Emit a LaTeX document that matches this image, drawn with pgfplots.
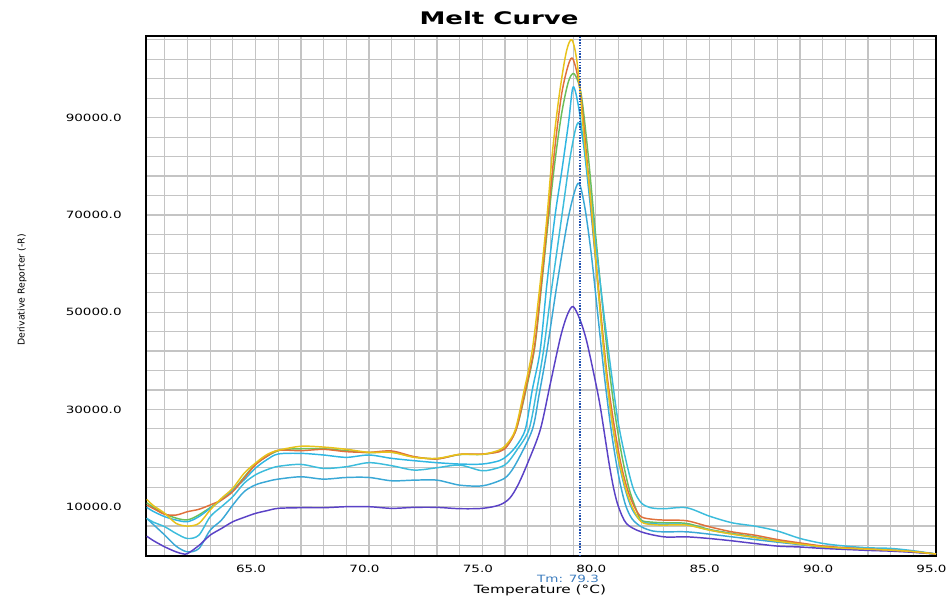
\documentclass[border=0pt]{standalone}
\usepackage{fontspec}
\setmainfont{DejaVu Sans}
\usepackage{pgfplots}
\pgfplotsset{compat=1.18}

\definecolor{cYel}{HTML}{E8C21A}
\definecolor{cOra}{HTML}{E0703A}
\definecolor{cGrn}{HTML}{6CBF5A}
\definecolor{cCyA}{HTML}{2FB6E2}
\definecolor{cCyB}{HTML}{3CBCDC}
\definecolor{cCyC}{HTML}{3AA8D6}
\definecolor{cPur}{HTML}{5A42C6}
\definecolor{cTm}{HTML}{2050B0}
\definecolor{cTmTxt}{HTML}{3C7CBE}
\definecolor{gridg}{HTML}{C4C4C4}

\begin{document}
\begin{tikzpicture}
\useasboundingbox (-109.5pt,-31.5pt) rectangle (602.25pt,417pt);
\begin{axis}[
  scale only axis,
  width=592.5pt, height=390pt,
  xmin=60.17, xmax=95, ymin=-150, ymax=106800,
  xtick={65,70,...,95},
  minor xtick={61,62,63,64,66,67,68,69,71,72,73,74,76,77,78,79,81,82,83,84,86,87,88,89,91,92,93,94},
  ytick={10000,30000,50000,70000,90000},
  minor ytick={2000,6000,14000,18000,22000,26000,34000,38000,42000,46000,54000,58000,62000,66000,74000,78000,82000,86000,94000,98000,102000,106000},
  grid=both,
  major grid style={gridg, line width=0.9pt},
  minor grid style={gridg, line width=0.9pt},
  major tick length=0pt, minor tick length=0pt,
  tick pos=left,
  scaled y ticks=false,
  axis line style={black, line width=0.9pt},
  /pgf/number format/.cd, fixed, fixed zerofill, precision=1, 1000 sep={}, assume math mode=true,
  /pgfplots/.cd,
  ticklabel style={font=\fontsize{7.5}{9}\selectfont, xscale=1.35},
  yticklabel style={anchor=east, xshift=-10pt},
  xticklabel style={yshift=-3.5pt, xshift=-2.5pt},
  every axis plot/.append style={line width=1.1pt, smooth, mark=none},
]
% green (mostly hidden under orange and yellow)
\addplot[cGrn] coordinates {
(60.2,10800)(61,8500)(62,7300)(63,9800)(64,13400)(65,18700)(66,21500)(67,21900)(68,21900)(69,21500)(70,21100)(71,21200)(72,20200)(73,19850)(74,20700)(75,20750)(75.75,21400)(76.1,22600)(76.5,26000)(76.9,33500)(77.3,42500)(77.6,55000)(77.9,68500)(78.2,81000)(78.5,91000)(78.8,97500)(79.05,99000)(79.35,95000)(79.65,83000)(79.95,68000)(80.25,53500)(80.55,40000)(80.85,29000)(81.15,20500)(81.45,14000)(81.75,9800)(82,7240)(82.5,6800)(83,6690)(84,6550)(85,5320)(86,4500)(87,3790)(88,2970)(89,2400)(90,1800)(91,1500)(92,1250)(93,1050)(94,750)(95,250)
};
% cyan C (lowest cyan)
\addplot[cCyC] coordinates {
(60.2,7600)(60.5,6300)(61,4135)(61.5,1860)(62,690)(62.5,1375)(63,5170)(63.5,7240)(64,10345)(64.5,13100)(65,14485)(65.5,15175)(66,15660)(67,16140)(68,15660)(69,16000)(70,16000)(71,15320)(72,15450)(73,15450)(74,14420)(75,14280)(75.75,15320)(76.1,16300)(76.5,19000)(77.2,25800)(77.5,33000)(77.85,42200)(78.3,56000)(78.8,69700)(79.22,76500)(79.5,72000)(79.8,62000)(80.1,49000)(80.4,36000)(80.7,25000)(81,16500)(81.3,10500)(81.6,7500)(82,5870)(82.5,5000)(83,4820)(84,4820)(85,4350)(86,3790)(87,3240)(88,2700)(89,2200)(90,1700)(91,1400)(92,1200)(93,1000)(94,700)(95,250)
};
% cyan B (high tail)
\addplot[cCyB] coordinates {
(60.2,7600)(60.5,6800)(61,5860)(61.5,4480)(62,3445)(62.5,4135)(63,7930)(63.5,10000)(64,12070)(64.5,14830)(65,16555)(65.5,17590)(66,18280)(67,18690)(68,17870)(69,18210)(70,19040)(71,18420)(72,17520)(73,18000)(74,18550)(75,17380)(75.75,18070)(76.1,19000)(76.5,21500)(77.05,25800)(77.4,34000)(77.7,42200)(78,53000)(78.3,63000)(78.6,73000)(78.85,81300)(79.1,87500)(79.26,88900)(79.45,85000)(79.7,77000)(80,64000)(80.4,48000)(80.73,36000)(81,27000)(81.36,18900)(81.67,13500)(82,10800)(82.4,9800)(83,9570)(84,9780)(85,8060)(86,6690)(87,6000)(88,5000)(89,3470)(90,2440)(91,1890)(92,1540)(93,1410)(94,930)(95,250)
};
% cyan A
\addplot[cCyA] coordinates {
(60.2,9860)(60.5,9000)(61,7930)(61.5,7240)(62,6900)(62.5,7930)(63,9655)(63.5,11380)(64,13450)(64.5,15520)(65,17935)(65.5,19660)(66,20830)(67,20960)(68,20620)(69,20140)(70,20620)(71,19930)(72,19450)(73,19040)(74,18760)(75,18760)(75.75,19450)(76.1,20500)(76.5,22500)(76.9,26000)(77.2,34000)(77.55,42200)(77.85,56000)(78.2,69700)(78.5,79000)(78.8,89000)(79,96300)(79.25,92000)(79.5,83000)(79.8,70000)(80.1,55000)(80.4,40000)(80.7,28000)(81,19500)(81.3,13500)(81.6,9500)(82,7000)(82.5,6500)(83,6400)(84,6300)(85,5200)(86,4400)(87,3700)(88,2900)(89,2300)(90,1750)(91,1450)(92,1250)(93,1050)(94,750)(95,250)
};
% purple
\addplot[cPur] coordinates {
(60.2,3930)(60.5,3000)(61,1720)(61.5,690)(61.8,300)(62,340)(62.5,2000)(63,4135)(63.5,5515)(64,6900)(64.5,7800)(65,8620)(65.5,9170)(66,9650)(67,9780)(68,9780)(69,9990)(70,9990)(71,9650)(72,9850)(73,9850)(74,9580)(75,9650)(75.75,10330)(76.2,11700)(76.57,14450)(77,19000)(77.55,25770)(78,35380)(78.45,44980)(78.75,49500)(79,51150)(79.3,48500)(79.6,44000)(80,35380)(80.2,30500)(80.4,24500)(80.6,18500)(80.8,13500)(81,10000)(81.35,6530)(82,4820)(83,3790)(84,3790)(85,3450)(86,2970)(87,2420)(88,1890)(89,1700)(90,1410)(91,1200)(92,1000)(93,850)(94,600)(95,250)
};
% orange
\addplot[cOra] coordinates {
(60.2,10350)(60.5,9600)(61,8415)(61.5,8275)(62,8965)(62.5,9450)(63,10345)(63.5,11380)(64,13100)(64.5,15865)(65,18625)(65.5,20350)(66,21590)(67,21510)(68,21780)(69,21310)(70,21170)(71,21450)(72,20280)(73,19800)(74,20760)(75,20830)(75.75,21300)(76.1,22500)(76.5,26000)(76.9,34000)(77.3,43000)(77.6,56000)(77.9,70000)(78.2,84000)(78.5,95000)(78.8,101000)(79,102000)(79.3,96000)(79.6,82000)(79.9,66000)(80.2,51000)(80.5,37000)(80.8,27000)(81.1,19000)(81.4,13500)(81.7,10000)(82,7930)(82.5,7400)(83,7240)(84,7100)(85,5870)(86,4820)(87,4140)(88,3240)(89,2540)(90,1900)(91,1550)(92,1300)(93,1050)(94,750)(95,250)
};
% yellow
\addplot[cYel] coordinates {
(60.2,11500)(60.5,10200)(61,8620)(61.5,6550)(62,6000)(62.5,6550)(63,9310)(63.5,11725)(64,13800)(64.5,16900)(65,18970)(65.5,20700)(66,21590)(67,22420)(68,22250)(69,21800)(70,21170)(71,21170)(72,20140)(73,19930)(74,20760)(75,20760)(75.75,21650)(76.1,23000)(76.45,25800)(76.8,33000)(77.2,42200)(77.55,56000)(77.85,69700)(78.1,83400)(78.4,95000)(78.7,103500)(78.95,106000)(79.2,100500)(79.5,85000)(79.8,72000)(80.1,55000)(80.4,40000)(80.7,28000)(81,20000)(81.3,14000)(81.6,10000)(82,6900)(82.5,6300)(83,6210)(84,6210)(85,5180)(86,4350)(87,3650)(88,2900)(89,2300)(90,1750)(91,1450)(92,1250)(93,1050)(94,750)(95,250)
};
% Tm marker
\addplot[cTm, densely dotted, line width=1pt, sharp plot] coordinates {(79.3,-150)(79.3,106800)};
\end{axis}
\node[font=\bfseries\fontsize{13}{15}\selectfont, xscale=1.5] at (264.75pt,403.5pt) {Melt Curve};
\node[font=\fontsize{7}{8}\selectfont, rotate=90] at (-93pt,199.5pt) {Derivative Reporter (-R)};
\node[font=\fontsize{8.5}{10}\selectfont, xscale=1.35] at (295.5pt,-25.5pt) {Temperature (°C)};
\node[font=\fontsize{7.5}{9}\selectfont, xscale=1.35, text=cTmTxt] at (316.5pt,-17pt) {Tm: 79.3};
\end{tikzpicture}
\end{document}
